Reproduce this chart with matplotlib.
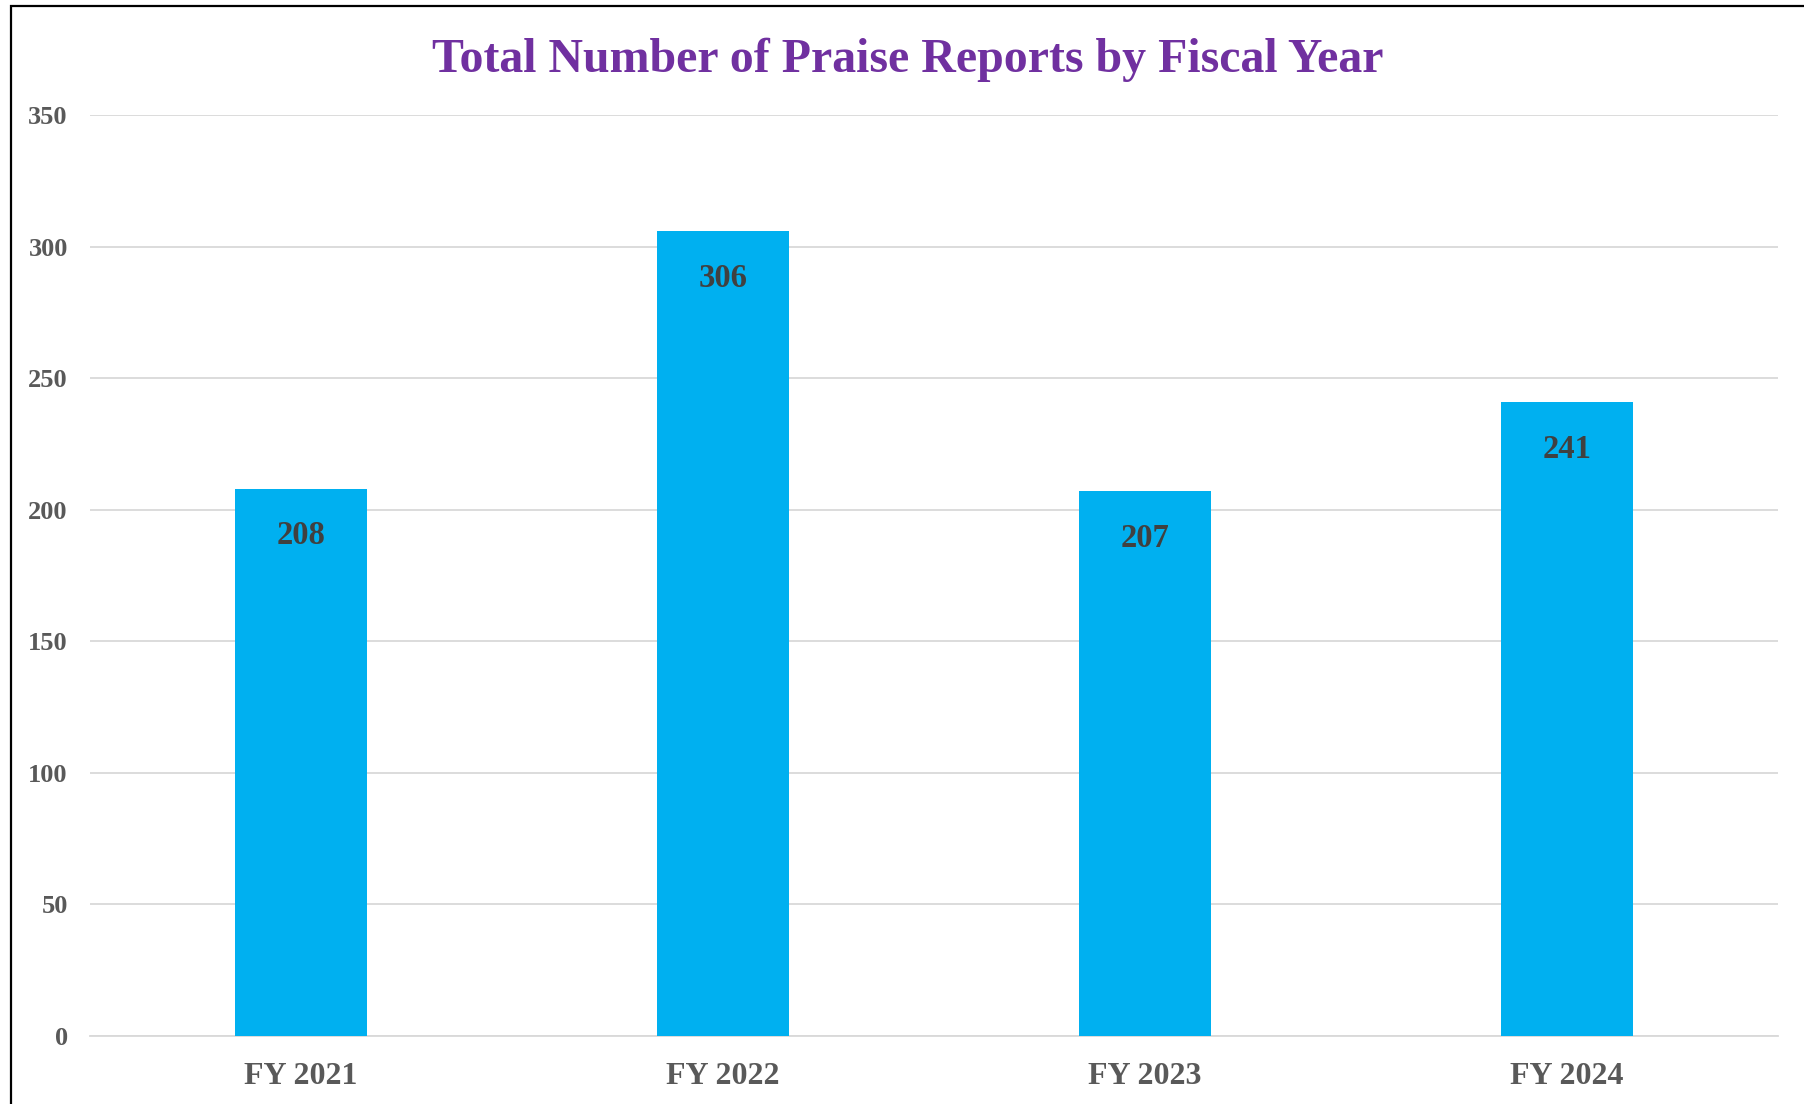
import matplotlib
matplotlib.use("Agg")
import matplotlib.pyplot as plt
from matplotlib.patches import Rectangle

categories = ["FY 2021", "FY 2022", "FY 2023", "FY 2024"]
values = [208, 306, 207, 241]
y_ticks = [0, 50, 100, 150, 200, 250, 300, 350]
title = "Total Number of Praise Reports by Fiscal Year"

W, H = 1804, 1104
fig = plt.figure(figsize=(W / 100, H / 100), dpi=100)
fig.patch.set_facecolor("white")

serif = ["Liberation Serif", "DejaVu Serif"]

# plot area in pixel coordinates
left, right, top, bottom = 90, 1778, 115, 1036
ax = fig.add_axes([left / W, 1 - bottom / H, (right - left) / W, (bottom - top) / H])

x = list(range(len(categories)))
ax.bar(x, values, width=0.313, color="#00B0F0", zorder=3)
ax.set_xlim(-0.5, len(categories) - 0.5)
ax.set_ylim(0, 350)
ax.set_yticks(y_ticks)
ax.set_yticklabels([str(t) for t in y_ticks])
ax.set_xticks(x)
ax.set_xticklabels(categories)

ax.grid(axis="y", color="#D9D9D9", linewidth=1.3, zorder=0)
ax.set_axisbelow(True)
for s in ["top", "right", "left"]:
    ax.spines[s].set_visible(False)
ax.spines["bottom"].set_color("#D9D9D9")
ax.spines["bottom"].set_linewidth(1.3)
ax.tick_params(axis="both", length=0)
ax.tick_params(axis="y", pad=16)
ax.tick_params(axis="x", pad=19)
for lab in ax.get_yticklabels():
    lab.set_fontfamily(serif)
    lab.set_fontweight("bold")
    lab.set_fontsize(19)
    lab.set_color("#595959")
for lab in ax.get_xticklabels():
    lab.set_fontfamily(serif)
    lab.set_fontweight("bold")
    lab.set_fontsize(23)
    lab.set_color("#595959")

# value labels inside the top of each bar
for xi, v in zip(x, values):
    ax.annotate(str(v), (xi, v), xytext=(0, -34), textcoords="offset points",
                ha="center", va="center", fontsize=23.5, fontweight="bold",
                family=serif, color="#404040", zorder=4)

fig.text(0.503, 1 - 60 / H, title, ha="center", va="center", fontsize=34.5,
         fontweight="bold", family=serif, color="#7030A0")

# outer frame (clipped by the image on the right and bottom)
fig.patches.append(Rectangle((11 / W, -0.1), 1.2, 1 - 6 / H + 0.1,
                             transform=fig.transFigure, fill=False,
                             edgecolor="black", linewidth=1.6))

fig.savefig("out.png", dpi=100, facecolor="white")
